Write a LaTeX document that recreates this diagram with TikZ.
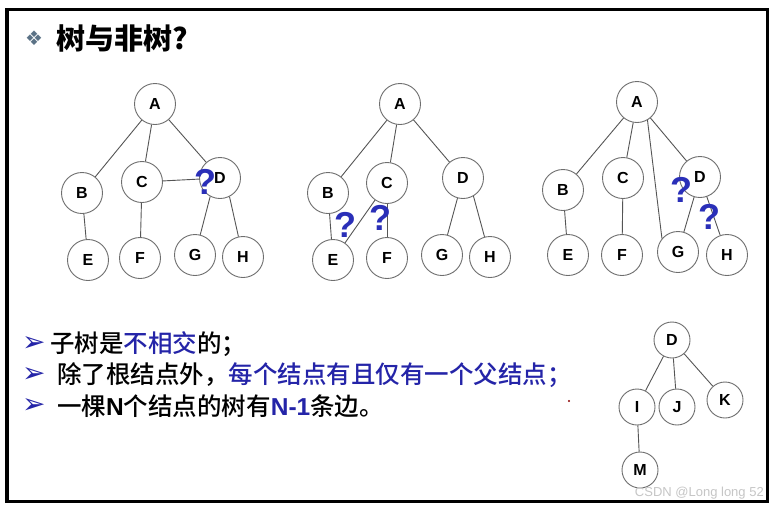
\documentclass[tikz,border=0pt]{standalone}
\usepackage{fontspec}
\setmainfont{Liberation Sans}
\newfontfamily\cjk{Noto Sans CJK SC}
\newfontfamily\cjkm{Noto Sans CJK SC Medium}
\newfontfamily\dejavu{DejaVu Sans}
\definecolor{nodegray}{HTML}{6E6E6E}
\definecolor{edgegray}{HTML}{555555}
\definecolor{tblue}{HTML}{2424A8}
\definecolor{qblue}{HTML}{2A2FB8}
\definecolor{symgray}{HTML}{5B7286}
\tikzset{
  tn/.style={circle, draw=nodegray, line width=0.9pt, fill=white, minimum size=41pt, inner sep=0pt, font=\bfseries\fontsize{16}{16}\selectfont},
  sn/.style={tn, minimum size=36pt},
  ed/.style={draw=edgegray, line width=0.9pt},
  qm/.style={text=qblue, font=\bfseries\fontsize{36}{36}\selectfont, inner sep=0pt},
  bul/.style={anchor=west, text=tblue, font=\dejavu\fontsize{28}{28}\selectfont, inner sep=0pt},
  txt/.style={anchor=west, font=\cjkm\fontsize{24.5}{24.5}\selectfont, inner sep=0pt}
}
\begin{document}
\begin{tikzpicture}[x=1pt,y=-1pt]
\useasboundingbox (0,0) rectangle (771,507);
\fill[white] (0,0) rectangle (771,507);
\draw[line width=3.5pt, black] (7,9.5) rectangle (767.5,501.5);

% title
\node[anchor=west, text=symgray, font=\dejavu\fontsize{20}{20}\selectfont, inner sep=0pt] (sym) at (25,38) {❖};
\node[anchor=west, font=\cjk\bfseries\fontsize{29}{29}\selectfont, inner sep=0pt] (title) at (56,38) {树与非树?};

% tree 1
\node[tn] (A1) at (155,104) {A};
\node[tn] (B1) at (82,193) {B};
\node[tn] (C1) at (142,182) {C};
\node[tn] (D1) at (220,178) {D};
\node[tn] (E1) at (88,260) {E};
\node[tn] (F1) at (140,258) {F};
\node[tn] (G1) at (195,255) {G};
\node[tn] (H1) at (243,257) {H};
\path[ed] (A1) -- (B1);
\path[ed] (A1) -- (C1);
\path[ed] (A1) -- (D1);
\path[ed] (C1) -- (D1);
\path[ed] (B1) -- (E1);
\path[ed] (C1) -- (F1);
\path[ed] (D1.-118) -- (G1);
\path[ed] (D1.-63) -- (H1);
\node[qm] (q1) at (205,182) {?};

% tree 2
\node[tn] (A2) at (400,104) {A};
\node[tn] (B2) at (328,193) {B};
\node[tn] (C2) at (387,183) {C};
\node[tn] (D2) at (463,178) {D};
\node[tn] (E2) at (333,260) {E};
\node[tn] (F2) at (387,258) {F};
\node[tn] (G2) at (442,255) {G};
\node[tn] (H2) at (490,257) {H};
\path[ed] (A2) -- (B2);
\path[ed] (A2) -- (C2);
\path[ed] (A2) -- (D2);
\path[ed] (B2) -- (E2);
\path[ed] (C2) -- (E2);
\path[ed] (C2) -- (F2);
\path[ed] (D2) -- (G2);
\path[ed] (D2.-60) -- (H2);
\node[qm] (q2) at (345,225) {?};
\node[qm] (q3) at (380,218) {?};

% tree 3
\node[tn] (A3) at (637,102) {A};
\node[tn] (B3) at (563,190) {B};
\node[tn] (C3) at (623,178) {C};
\node[tn] (D3) at (700,177) {D};
\node[tn] (E3) at (568,255) {E};
\node[tn] (F3) at (622,255) {F};
\node[tn] (G3) at (678,252) {G};
\node[tn] (H3) at (727,255) {H};
\path[ed] (A3) -- (B3);
\path[ed] (A3) -- (C3);
\path[ed] (A3.-60) -- (G3.140);
\path[ed] (A3) -- (D3);
\path[ed] (B3) -- (E3);
\path[ed] (C3) -- (F3);
\path[ed] (D3) -- (G3);
\path[ed] (D3) -- (H3);
\node[qm] (q4) at (681,190) {?};
\node[qm] (q5) at (709,217) {?};

% small tree
\node[sn] (D4) at (672,340) {D};
\node[sn] (I4) at (637,407) {I};
\node[sn] (J4) at (677,407) {J};
\node[sn] (K4) at (725,400) {K};
\node[sn] (M4) at (640,470) {M};
\path[ed] (D4) -- (I4);
\path[ed] (D4) -- (J4);
\path[ed] (D4) -- (K4);
\path[ed] (I4) -- (M4);

% bullets
\node[bul] (b1) at (22,344) {➢};
\node[bul] (b2) at (22,375) {➢};
\node[bul] (b3) at (22,406) {➢};
\node[txt] (t1) at (50,344) {子树是\textcolor{tblue}{不相交}的；};
\node[txt] (t2) at (57,375) {除了根结点外，\textcolor{tblue}{每个结点有且仅有一个父结点；}};
\node[txt] (t3) at (57,406) {一棵{\rmfamily\bfseries N}个结点的树有\textcolor{tblue}{\rmfamily\bfseries N-1}条边。};
\fill[red!55!black] (569,401) circle (1.1);

% watermark
\node[anchor=east, text=gray!45, font=\fontsize{13}{13}\selectfont, inner sep=0pt] (wm) at (764,493) {CSDN @Long long 52};
\end{tikzpicture}
\end{document}
